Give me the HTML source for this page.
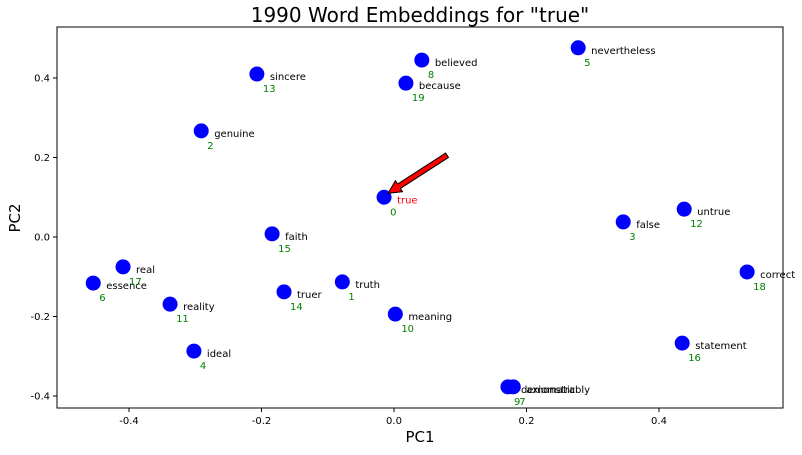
<!DOCTYPE html>
<html><head><meta charset="utf-8"><style>
body{margin:0;background:#fff;font-family:"DejaVu Sans",sans-serif}
</style></head><body>
<svg id="c" width="802" height="451" xmlns="http://www.w3.org/2000/svg" font-family="DejaVu Sans, sans-serif"></svg>
<script>
const words=["true","truth","genuine","false","ideal","nevertheless","essence","axiomatic","believed","demonstrably","meaning","reality","untrue","sincere","truer","faith","statement","real","correct","because"];
const pc1=[-0.015,-0.078,-0.291,0.346,-0.302,0.278,-0.454,0.180,0.042,0.172,0.002,-0.338,0.438,-0.207,-0.166,-0.184,0.435,-0.409,0.533,0.018];
const pc2=[0.100,-0.113,0.267,0.038,-0.287,0.476,-0.116,-0.377,0.445,-0.377,-0.194,-0.169,0.070,0.410,-0.138,0.008,-0.267,-0.075,-0.088,0.387];
const xTicks=[-0.4,-0.2,0.0,0.2,0.4];
const yTicks=[-0.4,-0.2,0.0,0.2,0.4];
const L=57,R=783,T=27,B=408;
const X=v=>394+v*662.5, Y=v=>237-v*397.5;
const s=document.getElementById('c'),NS="http://www.w3.org/2000/svg";
function mk(t,a,txt){const e=document.createElementNS(NS,t);for(const k in a)e.setAttribute(k,a[k]);if(txt!=null)e.textContent=txt;s.appendChild(e);return e;}
let e=mk('rect',{x:L,y:T,width:R-L,height:B-T,fill:'none',stroke:'#000','stroke-width':1});


e=mk('text',{x:420,y:22,'text-anchor':'middle','font-size':20},'1990 Word Embeddings for "true"');


e=mk('text',{x:420,y:442,'text-anchor':'middle','font-size':15},'PC1');


e=mk('text',{x:20,y:218,'text-anchor':'middle','font-size':15,transform:'rotate(-90 20 218)'},'PC2');


xTicks.forEach(t=>{const x=X(t);
e=mk('line',{x1:x,x2:x,y1:B,y2:B+4,stroke:'#000'});


e=mk('text',{x:x,y:B+16,'text-anchor':'middle','font-size':10},t.toFixed(1));

});
yTicks.forEach(t=>{const y=Y(t);
e=mk('line',{x1:L-4,x2:L,y1:y,y2:y,stroke:'#000'});


e=mk('text',{x:L-7,y:y+3.5,'text-anchor':'end','font-size':10},t.toFixed(1));

});
words.forEach((w,i)=>{const x=X(pc1[i]),y=Y(pc2[i]);
e=mk('circle',{cx:x,cy:y,r:7.5,fill:'#0000ff'});


e=mk('text',{x:x+13,y:y+6,'font-size':10,fill:i===0?'#ff0000':'#000'},w);


e=mk('text',{x:x+6,y:y+18,'font-size':10,fill:'#008000'},String(i));

});
const tx=X(pc1[0])+4,ty=Y(pc2[0])-4,sx=tx+59,sy=ty-38;
const ang=Math.atan2(ty-sy,tx-sx),ux=Math.cos(ang),uy=Math.sin(ang),px=-uy,py=ux;
const hl=13,hw=6.5,w2=2.6,bx=tx-ux*hl,by=ty-uy*hl;
const pts=[[sx+px*w2,sy+py*w2],[bx+px*w2,by+py*w2],[bx+px*hw,by+py*hw],[tx,ty],[bx-px*hw,by-py*hw],[bx-px*w2,by-py*w2],[sx-px*w2,sy-py*w2]];
e=mk('polygon',{points:pts.map(p=>p.join(',')).join(' '),fill:'#ff0000',stroke:'#000','stroke-width':1});


</script>
</body></html>
